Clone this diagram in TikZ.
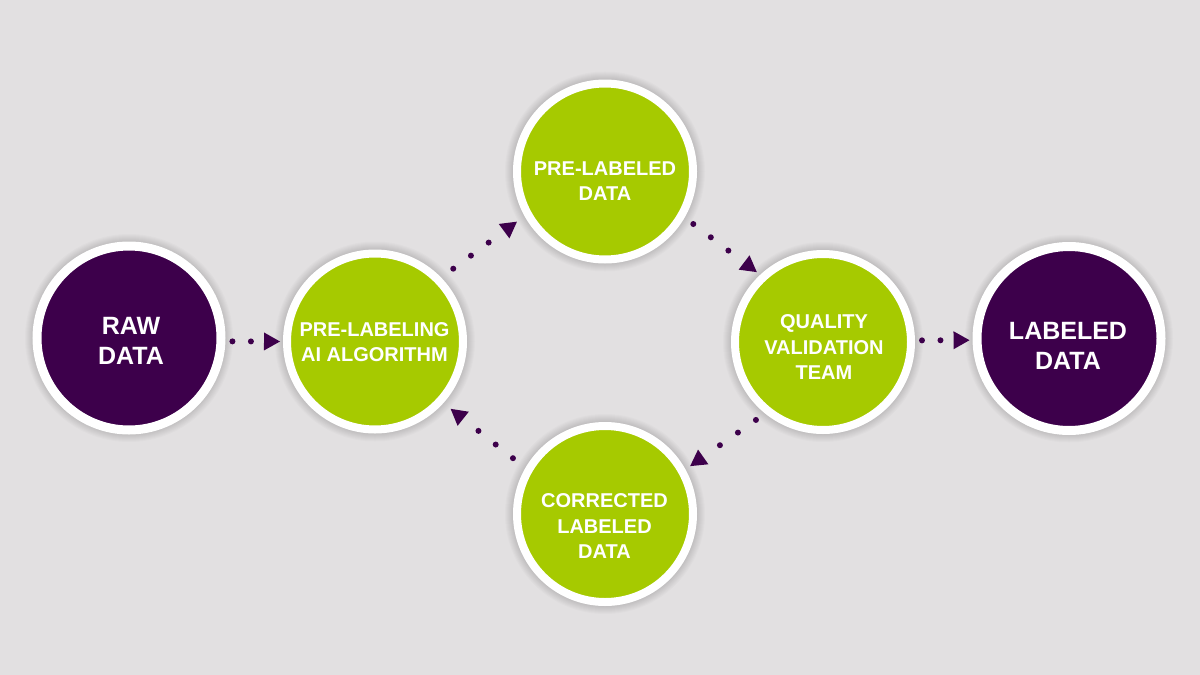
\documentclass[tikz,border=0pt]{standalone}
\usepackage{fontspec}
\setmainfont{Liberation Sans}
\usetikzlibrary{arrows.meta}
\definecolor{bgc}{HTML}{E2E0E1}
\definecolor{plum}{HTML}{3D004B}
\definecolor{lime}{HTML}{A6CA00}
\begin{document}
\begin{tikzpicture}[x=1pt,y=-1pt,
  halo/.style={preaction={draw=black,draw opacity=0.014,line width=10pt},
               preaction={draw=black,draw opacity=0.014,line width=12pt},
               preaction={draw=black,draw opacity=0.014,line width=14pt},
               preaction={draw=black,draw opacity=0.014,line width=16pt},
               preaction={draw=black,draw opacity=0.014,line width=18pt},
               preaction={draw=black,draw opacity=0.014,line width=20pt},
               preaction={draw=black,draw opacity=0.014,line width=22pt},
               preaction={draw=black,draw opacity=0.014,line width=24pt}},
  greencirc/.style={circle, halo, fill=lime, draw=white, line width=8pt,
               minimum size=176pt, inner sep=0pt, outer sep=4pt},
  purplecirc/.style={circle, halo, fill=plum, draw=white, line width=9pt,
               minimum size=184pt, inner sep=0pt, outer sep=4.5pt},
  greentext/.style={text=white, font=\fontsize{20}{25.5}\selectfont\bfseries,
               align=center, inner sep=0pt},
  purpletext/.style={text=white, font=\fontsize{25}{29.5}\selectfont\bfseries,
               align=center, inner sep=0pt},
  flow/.style={draw=plum, line width=6pt, line cap=round,
               dash pattern=on 0pt off 22pt,
               -{Triangle[length=16pt,width=18pt,line width=0pt]}},
  flowh/.style={flow, dash pattern=on 0pt off 18.5pt}]
\fill[bgc] (0,0) rectangle (1200,675);
\useasboundingbox (0,0) rectangle (1200,675);

\node[purplecirc] (raw) at (129,338) {};
\node[greencirc]  (pre) at (375,341.5) {};
\node[greencirc]  (pld) at (605,171.5) {};
\node[greencirc]  (qv)  at (823,342) {};
\node[greencirc]  (cld) at (605,514) {};
\node[purplecirc] (lbl) at (1069,338.5) {};

\node[purpletext] (rawt) at (131,341) {RAW\\DATA};
\node[greentext]  (pret) at (374.5,342) {PRE-LABELING\\AI ALGORITHM};
\node[greentext]  (pldt) at (605,181) {PRE-LABELED\\DATA};
\node[greentext]  (qvt)  at (824,347.5) {QUALITY\\VALIDATION\\TEAM};
\node[greentext]  (cldt) at (604.5,526.5) {CORRECTED\\LABELED\\DATA};
\node[purpletext] (lblt) at (1068,346) {LABELED\\DATA};

\draw[flowh, shorten <=7pt, shorten >=3pt] (raw.-2) -- (pre.180);
\draw[flow, shorten <=15pt, shorten >=9.4pt] (pre.44) -- (pld.209);
\draw[flow, shorten <=10.8pt, shorten >=4.3pt] (pld.-30) -- (qv.133);
\draw[flow, shorten <=11.2pt, shorten >=5.7pt] (qv.231) -- (cld.29);
\draw[flow, shorten <=15.8pt, shorten >=9.3pt] (cld.150) -- (pre.318);
\draw[flowh, shorten <=7pt, shorten >=3pt] (qv.1) -- (lbl.181);
\end{tikzpicture}
\end{document}
